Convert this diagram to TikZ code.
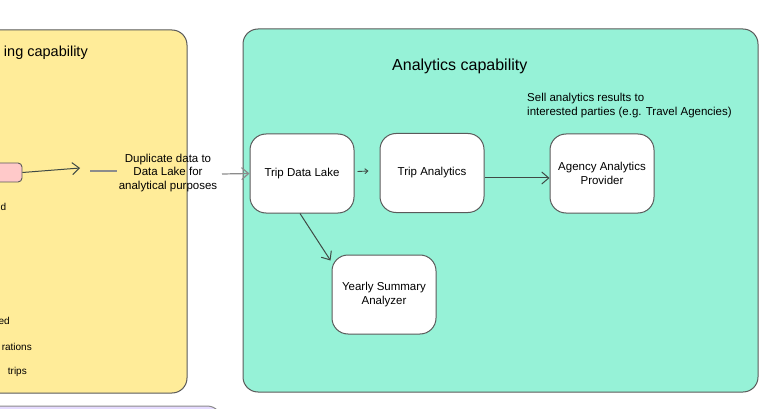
\documentclass[tikz,border=0pt]{standalone}
\usepackage{fontspec}
\setmainfont{Liberation Sans}
\usetikzlibrary{arrows.meta}
\definecolor{yel}{HTML}{FFEC99}
\definecolor{grn}{HTML}{96F2D7}
\definecolor{lav}{HTML}{E5DBFF}
\definecolor{pnk}{HTML}{FFC9C9}
\definecolor{edgec}{HTML}{5A5A5A}
\definecolor{arrc}{HTML}{3F4A45}
\begin{document}
\begin{tikzpicture}[x=1pt,y=-1pt,
  container/.style={draw=edgec, line width=1pt, rounded corners=15pt},
  box/.style={draw=edgec, line width=1pt, fill=white, rounded corners=16pt,
    minimum width=104pt, minimum height=79pt, align=center, inner sep=2pt,
    font=\fontsize{11.5}{13.5}\selectfont},
  txt/.style={font=\fontsize{11.5}{13.5}\selectfont, inner sep=0pt},
  frag/.style={font=\fontsize{10}{12}\selectfont, inner sep=0pt},
  arr/.style={draw=arrc, line width=1pt, -{Straight Barb[length=7pt,width=12pt]}},
  arrsmall/.style={draw=arrc, line width=0.9pt, -{Straight Barb[length=3pt,width=5pt]}},
  grayline/.style={draw=black!45, line width=1.2pt},
  grayarr/.style={draw=black!45, line width=1.2pt, -{Straight Barb[length=7pt,width=12pt]}}]
\useasboundingbox (0,0) rectangle (782,409);
\clip (0,0) rectangle (782,409);
% containers
\draw[container, fill=yel] (-30,30) rectangle (187,393);
\draw[container, fill=grn] (243,29) rectangle (758,392);
\draw[container, fill=lav, draw=edgec!70] (-30,406) rectangle (222,470);
% left container texts (cut off by the picture edge)
\node[font=\fontsize{14.5}{16}\selectfont, anchor=east, inner sep=0pt] (ltitle) at (88,53) {ing capability};
\node[frag, anchor=west] (lfrag1) at (0.5,207) {d};
\node[frag, anchor=east] (lfrag2) at (10,321) {ed};
\node[frag, anchor=east] (lfrag3) at (32,347) {rations};
\node[frag, anchor=east] (lfrag4) at (27,372) {trips};
% pink box
\node[draw=edgec, line width=0.9pt, fill=pnk, rounded corners=4pt,
  minimum width=50pt, minimum height=19pt, inner sep=0pt] (pk) at (-3,172.5) {};
\coordinate (p1) at (80,168);
\draw[arr] (pk.east) -- (p1);
% analytics container texts
\node[font=\fontsize{16}{18}\selectfont, anchor=west, inner sep=0pt] (atitle) at (392,66) {Analytics capability};
\node[txt, anchor=north west, align=left] (sell) at (527,93) {Sell analytics results to\\interested parties (e.g. Travel Agencies)};
% boxes
\node[box] (tdl) at (302,173.5) {Trip Data Lake};
\node[box] (ta) at (432,173) {Trip Analytics};
\node[box] (aap) at (602,173.5) {Agency Analytics\\Provider};
\node[box] (ysa) at (384,294.5) {Yearly Summary\\Analyzer};
% duplicate label and gray arrow
\node[txt, align=center] (dup) at (168,173) {Duplicate data to\\Data Lake for\\analytical purposes};
\coordinate (g1) at (90,171);
\coordinate (g2) at (117,171);
\coordinate (g3) at (222,174);
\draw[grayline] (g1) -- (g2);
\draw[grayarr] (g3) -- (tdl.west);
% connectors
\draw[arrsmall] ([xshift=3pt,yshift=2pt]tdl.east) -- ([xshift=-11pt,yshift=2pt]ta.west);
\draw[arr] ([yshift=-5pt]ta.east) -- ([yshift=-4.5pt]aap.west);
\draw[arr] ([xshift=-2pt]tdl.south) -- ([shift={(-1pt,-6pt)}]ysa.north west);
\end{tikzpicture}
\end{document}
